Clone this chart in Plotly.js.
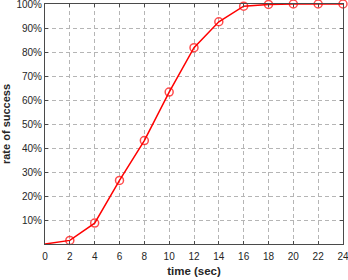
<!DOCTYPE html>
<html><head><meta charset="utf-8">
<script src="https://cdn.plot.ly/plotly-3.0.1.min.js"></script>
<style>html,body{margin:0;padding:0;background:#fff}#c{width:348px;height:280px}</style>
</head><body><div id="c"></div>
<script>
const timeSec = [0, 2, 4, 6, 8, 10, 12, 14, 16, 18, 20, 22, 24];
const successRate = [0, 1.5, 8.7, 26.5, 43.1, 63.3, 81.8, 92.6, 99.1, 99.8, 100, 100, 100];
const xTicks = [0, 2, 4, 6, 8, 10, 12, 14, 16, 18, 20, 22, 24];
const yTicks = [10, 20, 30, 40, 50, 60, 70, 80, 90, 100];
const yTickText = yTicks.map(v => v + '%');

const trace = {
  x: timeSec, y: successRate, type: 'scatter', mode: 'lines+markers',
  line: {color: '#ff0000', width: 1.5},
  marker: {symbol: 'circle-open', size: timeSec.map((t, i) => i === 0 ? 0 : 8), color: '#ff0000', line: {width: 1.5, color: '#ff0000'}},
  cliponaxis: false
};
const axisCommon = {
  showline: true, mirror: 'ticks', linecolor: '#4a4a4a', linewidth: 1,
  ticks: 'inside', ticklen: 3, tickcolor: '#4a4a4a',
  showgrid: true, gridcolor: '#b5b5b5', griddash: '4px,3px', gridwidth: 1,
  zeroline: false, ticklabeloverflow: 'allow',
  tickfont: {family: 'Liberation Sans, Arial, sans-serif', size: 10, color: '#262626'}
};
const layout = {
  width: 348, height: 280,
  margin: {l: 45, r: 5, t: 4, b: 36},
  paper_bgcolor: '#fff', plot_bgcolor: '#fff',
  showlegend: false,
  xaxis: Object.assign({}, axisCommon, {
    range: [0, 24], tickvals: xTicks, ticktext: xTicks.map(String), ticklabelstandoff: 3,
    title: {text: '<b>time (sec)</b>', standoff: 5, font: {family: 'Liberation Sans, Arial, sans-serif', size: 11.5, color: '#262626'}}
  }),
  yaxis: Object.assign({}, axisCommon, {
    range: [0, 100], tickvals: yTicks, ticktext: yTickText,
    title: {text: '<b>rate of success</b>', standoff: 4, font: {family: 'Liberation Sans, Arial, sans-serif', size: 11, color: '#262626'}}
  })
};
Plotly.newPlot('c', [trace], layout, {staticPlot: true, displayModeBar: false});
</script></body></html>
